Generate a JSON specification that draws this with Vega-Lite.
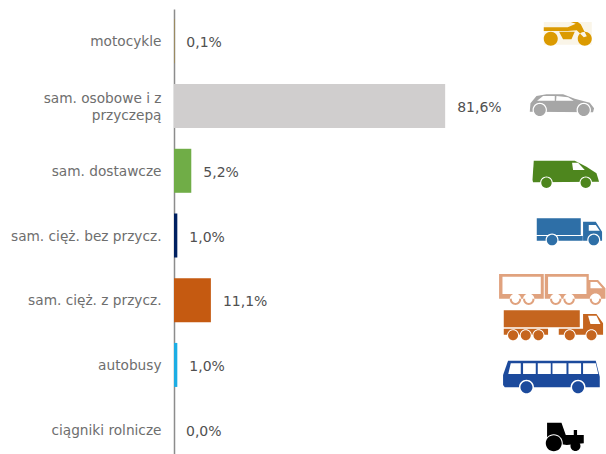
{"$schema":"https://vega.github.io/schema/vega-lite/v6.json","width":432,"height":445,"autosize":"none","padding":{"left":174,"top":9,"right":0,"bottom":0},"background":"white","view":{"stroke":null},"config":{"font":"DejaVu Sans"},
"data":{"values":[
{"kategoria":"motocykle","udzial":0.1,"etykieta":"0,1%"},
{"kategoria":"sam. osobowe i z przyczepą","udzial":81.6,"etykieta":"81,6%"},
{"kategoria":"sam. dostawcze","udzial":5.2,"etykieta":"5,2%"},
{"kategoria":"sam. cięż. bez przycz.","udzial":1.0,"etykieta":"1,0%"},
{"kategoria":"sam. cięż. z przycz.","udzial":11.1,"etykieta":"11,1%"},
{"kategoria":"autobusy","udzial":1.0,"etykieta":"1,0%"},
{"kategoria":"ciągniki rolnicze","udzial":0.0,"etykieta":"0,0%"}]},
"encoding":{
"y":{"field":"kategoria","type":"nominal","sort":null,"title":null,"scale":{"domain":["motocykle","sam. osobowe i z przyczepą","sam. dostawcze","sam. cięż. bez przycz.","sam. cięż. z przycz.","autobusy","ciągniki rolnicze"],"range":[0,453],"paddingInner":0.32,"paddingOuter":0.16},
"axis":{"ticks":false,"grid":false,"domainColor":"#8C8C8C","domainWidth":1.5,"labelColor":"#6E6E6E","labelFontSize":13.7,"labelPadding":13,"labelLimit":0,"labelLineHeight":17,"labelOffset":{"condition":{"test":"datum.value=='sam. osobowe i z przyczepą'","value":-7},"value":1},"labelExpr":"datum.value=='sam. osobowe i z przyczepą'?['sam. osobowe i z','przyczepą\u00a0\u00a0\u00a0\u00a0\u00a0\u00a0']:datum.value"}},
"x":{"field":"udzial","type":"quantitative","axis":null,"scale":{"domain":[0,130]}}},
"layer":[
{"mark":{"type":"bar"},"encoding":{"x":{"field":"udzial","type":"quantitative","stack":null,"axis":null,"scale":{"domain":[0,130]}},"color":{"field":"kategoria","type":"nominal","legend":null,"scale":{"domain":["motocykle","sam. osobowe i z przyczepą","sam. dostawcze","sam. cięż. bez przycz.","sam. cięż. z przycz.","autobusy","ciągniki rolnicze"],"range":["#B8860B","#D0CECE","#70AD47","#002060","#C55A11","#1CADE4","#000000"]}}}},
{"mark":{"type":"text","align":"left","baseline":"middle","dx":12,"dy":2,"fontSize":14,"color":"#505050"},"encoding":{"text":{"field":"etykieta"}}},
{"transform":[{"filter":"datum.kategoria=='motocykle'"}],"mark":{"type":"point","filled":true,"opacity":1,"strokeWidth":0,"size":4,"color":"#FAF5E8","shape":"M-29 -19.4H19V3.3H-29Z"},"encoding":{"x":{"datum":120,"axis":null}}},
{"transform":[{"filter":"datum.kategoria=='motocykle'"}],"mark":{"type":"point","filled":true,"opacity":1,"strokeWidth":0,"size":4,"color":"#DB9A00","shape":"M-29 -14L-5 -14L3 -17.5L-2 -19.4L5 -19.4L8 -17L14 -5L11 -4L4 -11L-5 -10.4L-29 -10.4ZM-13.7 -9.7L2 -9.7L-1.3 -2L-9.7 -2ZM-29 -2.7a7 7 0 1 0 14 0a7 7 0 1 0 -14 0ZM5 -2.7a7 7 0 1 0 14 0a7 7 0 1 0 -14 0Z"},"encoding":{"x":{"datum":120,"axis":null}}},
{"transform":[{"filter":"datum.kategoria=='sam. osobowe i z przyczepą'"}],"mark":{"type":"point","filled":true,"opacity":1,"strokeWidth":0,"size":4,"color":"#A6A6A6","shape":"M-43 5.6L-42.3 -2.8L-36.3 -10.1L-26.3 -11.8L-9.7 -11.8L2 -7.4L17 -3.4L21.3 2.2L20.3 6.2Z"},"encoding":{"x":{"datum":120,"axis":null}}},
{"transform":[{"filter":"datum.kategoria=='sam. osobowe i z przyczepą'"}],"mark":{"type":"point","filled":true,"opacity":1,"strokeWidth":0,"size":4,"color":"#FFFFFF","shape":"M-35.7 -5.4L-18 -5.4L-18 -10.1L-29.7 -10.1ZM-16.7 -5.4L1 -5.4L-4.7 -8.8L-16.3 -10ZM-40.2 3.9a7.2 7.2 0 1 0 14.4 0a7.2 7.2 0 1 0 -14.4 0ZM3.8 3.9a7.2 7.2 0 1 0 14.4 0a7.2 7.2 0 1 0 -14.4 0Z"},"encoding":{"x":{"datum":120,"axis":null}}},
{"transform":[{"filter":"datum.kategoria=='sam. osobowe i z przyczepą'"}],"mark":{"type":"point","filled":true,"opacity":1,"strokeWidth":0,"size":4,"color":"#A6A6A6","shape":"M-39 3.9a6 6 0 1 0 12 0a6 6 0 1 0 -12 0ZM5 3.9a6 6 0 1 0 12 0a6 6 0 1 0 -12 0Z"},"encoding":{"x":{"datum":120,"axis":null}}},
{"transform":[{"filter":"datum.kategoria=='sam. dostawcze'"}],"mark":{"type":"point","filled":true,"opacity":1,"strokeWidth":0,"size":4,"color":"#4E861E","shape":"M-39 -10.1L2 -10.1L13.7 -4.1L23.7 2.5L26.3 10.9L-39.7 11.5L-40.3 9.2Z"},"encoding":{"x":{"datum":120,"axis":null}}},
{"transform":[{"filter":"datum.kategoria=='sam. dostawcze'"}],"mark":{"type":"point","filled":true,"opacity":1,"strokeWidth":0,"size":4,"color":"#FFFFFF","shape":"M-0.7 -8.1L5.3 -8.1L12 -0.8L0.3 -0.8ZM-32.6 11.9a6.3 6.3 0 1 0 12.6 0a6.3 6.3 0 1 0 -12.6 0ZM6.7 11.9a6.3 6.3 0 1 0 12.6 0a6.3 6.3 0 1 0 -12.6 0Z"},"encoding":{"x":{"datum":120,"axis":null}}},
{"transform":[{"filter":"datum.kategoria=='sam. dostawcze'"}],"mark":{"type":"point","filled":true,"opacity":1,"strokeWidth":0,"size":4,"color":"#4E861E","shape":"M-31.5 11.9a5.2 5.2 0 1 0 10.4 0a5.2 5.2 0 1 0 -10.4 0ZM7.8 11.9a5.2 5.2 0 1 0 10.4 0a5.2 5.2 0 1 0 -10.4 0Z"},"encoding":{"x":{"datum":120,"axis":null}}},
{"transform":[{"filter":"datum.kategoria=='sam. cięż. bez przycz.'"}],"mark":{"type":"point","filled":true,"opacity":1,"strokeWidth":0,"size":4,"color":"#2E6FA7","shape":"M-36 -17.2H8V-0.5H-36ZM-36 0.5H10V5.2H-36ZM10.3 -13.8L23 -13.8L29.3 -3.8V5.2H10.3Z"},"encoding":{"x":{"datum":120,"axis":null}}},
{"transform":[{"filter":"datum.kategoria=='sam. cięż. bez przycz.'"}],"mark":{"type":"point","filled":true,"opacity":1,"strokeWidth":0,"size":4,"color":"#FFFFFF","shape":"M16 -10.5L23 -10.5L27 -4.8L16 -4.8ZM-27.2 4.5a6.5 6.5 0 1 0 13 0a6.5 6.5 0 1 0 -13 0ZM14.5 4.5a6.5 6.5 0 1 0 13 0a6.5 6.5 0 1 0 -13 0Z"},"encoding":{"x":{"datum":120,"axis":null}}},
{"transform":[{"filter":"datum.kategoria=='sam. cięż. bez przycz.'"}],"mark":{"type":"point","filled":true,"opacity":1,"strokeWidth":0,"size":4,"color":"#2E6FA7","shape":"M-26 4.5a5.3 5.3 0 1 0 10.6 0a5.3 5.3 0 1 0 -10.6 0ZM15.7 4.5a5.3 5.3 0 1 0 10.6 0a5.3 5.3 0 1 0 -10.6 0Z"},"encoding":{"x":{"datum":120,"axis":null}}},
{"transform":[{"filter":"datum.kategoria=='sam. cięż. z przycz.'"}],"mark":{"type":"point","filled":true,"opacity":1,"strokeWidth":0,"size":4,"color":"#E0A27E","shape":"M-73.7 -26.2H-29V-1.5H-73.7ZM-28 -26.2H16V-1.5H-28ZM16 -20.2L25.3 -20.2L32.7 -11.9L32.7 -1.5L16 -1.5ZM-63 -0.9a5.7 5.7 0 1 0 11.4 0a5.7 5.7 0 1 0 -11.4 0ZM-49.7 -0.9a5.7 5.7 0 1 0 11.4 0a5.7 5.7 0 1 0 -11.4 0ZM-22.7 -0.9a5.7 5.7 0 1 0 11.4 0a5.7 5.7 0 1 0 -11.4 0ZM-9.4 -0.9a5.7 5.7 0 1 0 11.4 0a5.7 5.7 0 1 0 -11.4 0ZM17 -0.9a5.7 5.7 0 1 0 11.4 0a5.7 5.7 0 1 0 -11.4 0Z"},"encoding":{"x":{"datum":120,"axis":null}}},
{"transform":[{"filter":"datum.kategoria=='sam. cięż. z przycz.'"}],"mark":{"type":"point","filled":true,"opacity":1,"strokeWidth":0,"size":4,"color":"#FFFFFF","shape":"M-70.3 -23.5H-32V-6.2H-70.3ZM-24.7 -23.5H13.7V-6.2H-24.7ZM17.7 -18.2L24.3 -18.2L29.7 -11.9L17.7 -11.9ZM-61 -0.9a3.7 3.7 0 1 0 7.4 0a3.7 3.7 0 1 0 -7.4 0ZM-47.7 -0.9a3.7 3.7 0 1 0 7.4 0a3.7 3.7 0 1 0 -7.4 0ZM-20.7 -0.9a3.7 3.7 0 1 0 7.4 0a3.7 3.7 0 1 0 -7.4 0ZM-7.4 -0.9a3.7 3.7 0 1 0 7.4 0a3.7 3.7 0 1 0 -7.4 0ZM19 -0.9a3.7 3.7 0 1 0 7.4 0a3.7 3.7 0 1 0 -7.4 0Z"},"encoding":{"x":{"datum":120,"axis":null}}},
{"transform":[{"filter":"datum.kategoria=='sam. cięż. z przycz.'"}],"mark":{"type":"point","filled":true,"opacity":1,"strokeWidth":0,"size":4,"color":"#C5651F","shape":"M-69 10.1H7V27.1H-69ZM-69 28.5H-24.7V34.5H-69ZM-14 28.5H21V34.5H-14ZM10.3 13.8L23.7 13.8L30.3 23.1L30.3 34.5L10.3 34.5Z"},"encoding":{"x":{"datum":120,"axis":null}}},
{"transform":[{"filter":"datum.kategoria=='sam. cięż. z przycz.'"}],"mark":{"type":"point","filled":true,"opacity":1,"strokeWidth":0,"size":4,"color":"#FFFFFF","shape":"M15.3 15.5L23.7 15.5L27.7 23.8L17.7 23.8ZM-65.7 35.1a6 6 0 1 0 12 0a6 6 0 1 0 -12 0ZM-53 35.1a6 6 0 1 0 12 0a6 6 0 1 0 -12 0ZM-40.3 35.1a6 6 0 1 0 12 0a6 6 0 1 0 -12 0ZM-9 35.1a6 6 0 1 0 12 0a6 6 0 1 0 -12 0ZM12.7 35.1a6 6 0 1 0 12 0a6 6 0 1 0 -12 0Z"},"encoding":{"x":{"datum":120,"axis":null}}},
{"transform":[{"filter":"datum.kategoria=='sam. cięż. z przycz.'"}],"mark":{"type":"point","filled":true,"opacity":1,"strokeWidth":0,"size":4,"color":"#C5651F","shape":"M-64.7 35.1a5 5 0 1 0 10 0a5 5 0 1 0 -10 0ZM-52 35.1a5 5 0 1 0 10 0a5 5 0 1 0 -10 0ZM-39.3 35.1a5 5 0 1 0 10 0a5 5 0 1 0 -10 0ZM-8 35.1a5 5 0 1 0 10 0a5 5 0 1 0 -10 0ZM13.7 35.1a5 5 0 1 0 10 0a5 5 0 1 0 -10 0Z"},"encoding":{"x":{"datum":120,"axis":null}}},
{"transform":[{"filter":"datum.kategoria=='autobusy'"}],"mark":{"type":"point","filled":true,"opacity":1,"strokeWidth":0,"size":4,"color":"#1C4A9C","shape":"M-64.7 -4.2L23 -4.2L27 11.8L27 22.4L-68 22.4L-69.7 20.1L-69.7 10.1Z"},"encoding":{"x":{"datum":120,"axis":null}}},
{"transform":[{"filter":"datum.kategoria=='autobusy'"}],"mark":{"type":"point","filled":true,"opacity":1,"strokeWidth":0,"size":4,"color":"#FFFFFF","shape":"M-62 -1.6H-52V9.1H-64.5ZM-49.7 -1.6H-37V9.1H-49.7ZM-35 -1.6H-22V9.1H-35ZM-20.3 -1.6H-6.3V9.1H-20.3ZM-4.3 -1.6H8.3V9.1H-4.3ZM10.3 -1.6H23L25.5 9.1H10.3ZM-53.8 22.4a7.5 7.5 0 1 0 15 0a7.5 7.5 0 1 0 -15 0ZM-2.2 22.4a7.5 7.5 0 1 0 15 0a7.5 7.5 0 1 0 -15 0Z"},"encoding":{"x":{"datum":120,"axis":null}}},
{"transform":[{"filter":"datum.kategoria=='autobusy'"}],"mark":{"type":"point","filled":true,"opacity":1,"strokeWidth":0,"size":4,"color":"#1C4A9C","shape":"M-52.3 22.4a6 6 0 1 0 12 0a6 6 0 1 0 -12 0ZM-0.7 22.4a6 6 0 1 0 12 0a6 6 0 1 0 -12 0Z"},"encoding":{"x":{"datum":120,"axis":null}}},
{"transform":[{"filter":"datum.kategoria=='ciągniki rolnicze'"}],"mark":{"type":"point","filled":true,"opacity":1,"strokeWidth":0,"size":4,"color":"#000000","shape":"M-25.7 -6.9L-11.3 -6.9L-7 5.4L11 5.4L11 13.7L-6 15.4L-25.7 12.4ZM1 0.4H4.3V5.4H1Z"},"encoding":{"x":{"datum":120,"axis":null}}},
{"transform":[{"filter":"datum.kategoria=='ciągniki rolnicze'"}],"mark":{"type":"point","filled":true,"opacity":1,"strokeWidth":0,"size":4,"color":"#FFFFFF","shape":"M-28 13.7a9 9 0 1 0 18 0a9 9 0 1 0 -18 0Z"},"encoding":{"x":{"datum":120,"axis":null}}},
{"transform":[{"filter":"datum.kategoria=='ciągniki rolnicze'"}],"mark":{"type":"point","filled":true,"opacity":1,"strokeWidth":0,"size":4,"color":"#000000","shape":"M-27 13.7a8 8 0 1 0 16 0a8 8 0 1 0 -16 0ZM-2.3 16.4a5 5 0 1 0 10 0a5 5 0 1 0 -10 0Z"},"encoding":{"x":{"datum":120,"axis":null}}}
]}
